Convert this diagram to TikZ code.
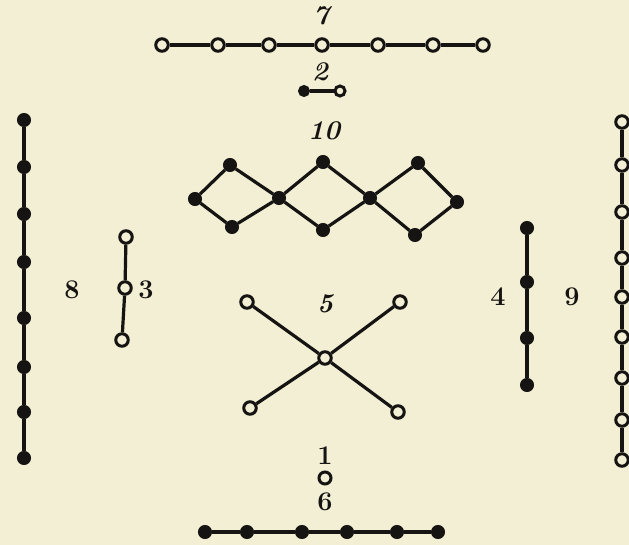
\documentclass[tikz,border=0pt]{standalone}
\begin{document}
\begin{tikzpicture}[x=1pt,y=-1pt,
 wn/.style={circle,draw=ink,fill=paper,line width=3pt,minimum size=12.5pt,inner sep=0pt},
 sw/.style={wn,minimum size=10pt},
 bn/.style={circle,draw=ink,fill=ink,line width=1pt,minimum size=13pt,inner sep=0pt},
 sb/.style={bn,minimum size=11pt},
 ln/.style={draw=ink,line width=3.2pt},
 lbl/.style={font=\fontsize{27}{30}\selectfont\bfseries,text=ink,inner sep=0pt},
 ilbl/.style={lbl,font=\fontsize{27}{30}\selectfont\bfseries\itshape}]
\definecolor{paper}{RGB}{242,239,212}
\definecolor{ink}{RGB}{22,20,18}
\fill[paper] (0,0) rectangle (629,545);
\useasboundingbox (0,0) rectangle (629,545);
% 7
\node[ilbl] (l7) at (321,16) {7};
\foreach \i/\x in {1/162,2/218,3/269,4/322,5/378,6/433,7/483}
  \node[wn] (s\i) at (\x,45) {};
\draw[ln] (s1)--(s2)--(s3)--(s4)--(s5)--(s6)--(s7);
% 2
\node[ilbl] (l2) at (320,72) {2};
\node[sb] (t1) at (304,91) {};
\node[sw] (t2) at (340,91) {};
\draw[ln] (t1)--(t2);
% 10
\node[ilbl] (l10) at (324,131) {10};
\node[bn] (a1) at (195,199) {};
\node[bn] (a2) at (230,165) {};
\node[bn] (a3) at (232,227) {};
\node[bn] (a4) at (279,198) {};
\node[bn] (a5) at (323,162) {};
\node[bn] (a6) at (323,230) {};
\node[bn] (a7) at (370,198) {};
\node[bn] (a8) at (418,163) {};
\node[bn] (a9) at (415,235) {};
\node[bn] (a10) at (457,202) {};
\draw[ln] (a1)--(a2)--(a4)--(a3)--(a1);
\draw[ln] (a4)--(a5)--(a7)--(a6)--(a4);
\draw[ln] (a7)--(a8)--(a10)--(a9)--(a7);
% 8
\node[lbl] (l8) at (72,290) {8};
\foreach \i/\y in {1/120,2/167,3/214,4/262,5/318,6/367,7/412,8/458}
  \node[bn] (e\i) at (24,\y) {};
\draw[ln] (e1)--(e2)--(e3)--(e4)--(e5)--(e6)--(e7)--(e8);
% 3
\node[lbl] (l3) at (146,290) {3};
\node[wn] (h1) at (126,237) {};
\node[wn] (h2) at (125,288) {};
\node[wn] (h3) at (122,340) {};
\draw[ln] (h1)--(h2)--(h3);
% 9
\node[lbl] (l9) at (572,297) {9};
\foreach \i/\y in {1/122,2/165,3/212,4/258,5/297,6/337,7/378,8/420,9/460}
  \node[wn] (n\i) at (622,\y) {};
\draw[ln] (n1)--(n2)--(n3)--(n4)--(n5)--(n6)--(n7)--(n8)--(n9);
% 4
\node[lbl] (l4) at (498,297) {4};
\foreach \i/\y in {1/228,2/282,3/338,4/385}
  \node[bn] (f\i) at (527,\y) {};
\draw[ln] (f1)--(f2)--(f3)--(f4);
% 5
\node[ilbl] (l5) at (325,304) {5};
\node[wn] (c0) at (325,358) {};
\node[wn] (c1) at (247,302) {};
\node[wn] (c2) at (400,302) {};
\node[wn] (c3) at (250,408) {};
\node[wn] (c4) at (398,412) {};
\draw[ln] (c1)--(c0)--(c4);
\draw[ln] (c2)--(c0)--(c3);
% 1 and 6
\node[lbl] (l1) at (325,456) {1};
\node[wn,minimum size=12pt] (o1) at (325,478) {};
\node[lbl] (l6) at (325,502) {6};
\foreach \i/\x in {1/205,2/247,3/302,4/347,5/397,6/438}
  \node[bn] (b\i) at (\x,532) {};
\draw[ln] (b1)--(b2)--(b3)--(b4)--(b5)--(b6);
\end{tikzpicture}
\end{document}
